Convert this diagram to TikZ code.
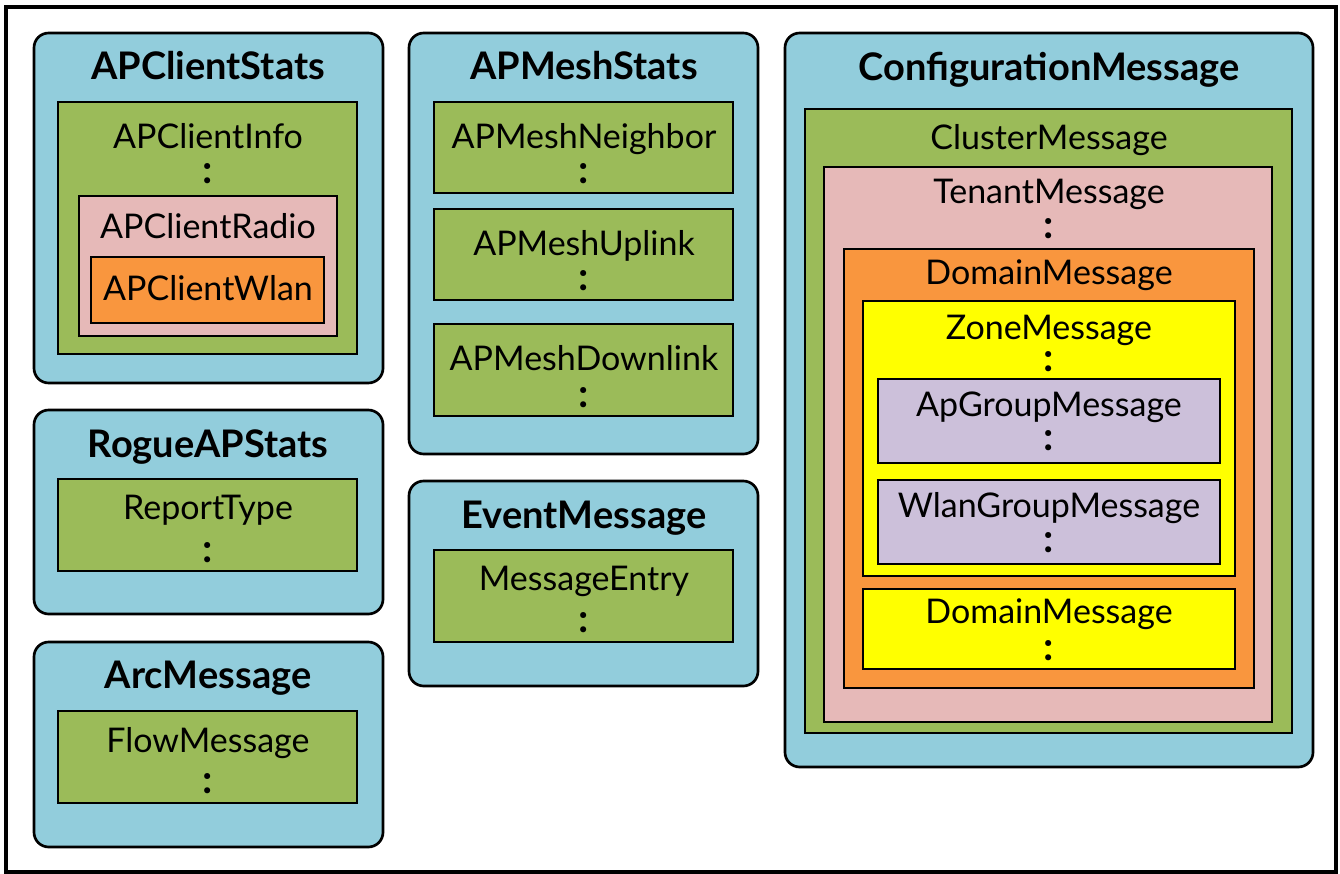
\documentclass[tikz,border=0pt]{standalone}
\usepackage{fontspec}
\setmainfont{Lato}
\usepackage{xcolor}
\usepackage{tikz}
\usetikzlibrary{fit}

\definecolor{msgblue}{RGB}{146,205,220}
\definecolor{msggreen}{RGB}{155,187,89}
\definecolor{msgpink}{RGB}{230,185,184}
\definecolor{msgorange}{RGB}{249,150,62}
\definecolor{msgyellow}{RGB}{255,255,0}
\definecolor{msgpurple}{RGB}{204,192,218}

\begin{document}
\begin{tikzpicture}[x=0.75pt, y=-0.75pt,
    outer/.style={draw, line width=2pt, rounded corners=11pt, fill=msgblue, inner sep=0pt},
    inner/.style={draw, line width=1.2pt, inner sep=0pt},
    title/.style={anchor=base, inner sep=0pt, font=\fontsize{28.5}{34}\selectfont\bfseries},
    lbl/.style={anchor=base, inner sep=0pt, font=\fontsize{25.5}{30}\selectfont},
    more/.style={anchor=base, inner sep=0pt, font=\fontsize{30}{36}\selectfont\bfseries}]

    \useasboundingbox (0,0) rectangle (1340,874);
    \draw[line width=2.4pt] (6,7) rectangle (1336,872);

    % left column
    \node[outer, fit={(34,33) (383,383)}] (clientstats) {};
    \node[title] (tClientStats) at (208,80) {APClientStats};
    \node[inner, fill=msggreen, fit={(58,102) (357,354)}] (clientinfo) {};
    \node[lbl] (tClientInfo) at (208,148) {APClientInfo};
    \node[more] (dClientInfo) at (208,183) {:};
    \node[inner, fill=msgpink, fit={(79,196) (337,336)}] (clientradio) {};
    \node[lbl] (tClientRadio) at (208,238) {APClientRadio};
    \node[inner, fill=msgorange, fit={(91,257) (324,323)}] (clientwlan) {};
    \node[lbl] (tClientWlan) at (208,300) {APClientWlan};

    \node[outer, fit={(34,410) (383,614)}] (rogue) {};
    \node[title] (tRogue) at (208,457) {RogueAPStats};
    \node[inner, fill=msggreen, fit={(58,479) (357,571)}] (report) {};
    \node[lbl] (tReport) at (208,519) {ReportType};
    \node[more] (dReport) at (208,562) {:};

    \node[outer, fit={(34,642) (383,847)}] (arc) {};
    \node[title] (tArc) at (208,688) {ArcMessage};
    \node[inner, fill=msggreen, fit={(58,711) (357,803)}] (flow) {};
    \node[lbl] (tFlow) at (208,752) {FlowMessage};
    \node[more] (dFlow) at (208,793) {:};

    % middle column
    \node[outer, fit={(409,33) (758,454)}] (meshstats) {};
    \node[title] (tMeshStats) at (584,80) {APMeshStats};
    \node[inner, fill=msggreen, fit={(434,102) (733,193)}] (neighbor) {};
    \node[lbl] (tNeighbor) at (584,148) {APMeshNeighbor};
    \node[more] (dNeighbor) at (584,183) {:};
    \node[inner, fill=msggreen, fit={(434,209) (733,300)}] (uplink) {};
    \node[lbl] (tUplink) at (584,255) {APMeshUplink};
    \node[more] (dUplink) at (584,290) {:};
    \node[inner, fill=msggreen, fit={(434,324) (733,416)}] (downlink) {};
    \node[lbl] (tDownlink) at (584,370) {APMeshDownlink};
    \node[more] (dDownlink) at (584,407) {:};

    \node[outer, fit={(409,481) (758,686)}] (event) {};
    \node[title] (tEvent) at (584,528) {EventMessage};
    \node[inner, fill=msggreen, fit={(434,550) (733,642)}] (entry) {};
    \node[lbl] (tEntry) at (584,590) {MessageEntry};
    \node[more] (dEntry) at (584,632) {:};

    % right column
    \node[outer, fit={(785,33) (1313,767)}] (config) {};
    \node[title] (tConfig) at (1049,81) {ConfigurationMessage};
    \node[inner, fill=msggreen, fit={(805,109) (1292,733)}] (cluster) {};
    \node[lbl] (tCluster) at (1049,150) {ClusterMessage};
    \node[inner, fill=msgpink, fit={(824,167) (1272,722)}] (tenant) {};
    \node[lbl] (tTenant) at (1049,203) {TenantMessage};
    \node[more] (dTenant) at (1049,238) {:};
    \node[inner, fill=msgorange, fit={(844,249) (1254,688)}] (domain) {};
    \node[lbl] (tDomain) at (1049,284) {DomainMessage};
    \node[inner, fill=msgyellow, fit={(863,301) (1235,576)}] (zone) {};
    \node[lbl] (tZone) at (1049,339) {ZoneMessage};
    \node[more] (dZone) at (1049,371) {:};
    \node[inner, fill=msgpurple, fit={(878,379) (1220,463)}] (apgroup) {};
    \node[lbl] (tApGroup) at (1049,416) {ApGroupMessage};
    \node[more] (dApGroup) at (1049,450) {:};
    \node[inner, fill=msgpurple, fit={(878,480) (1220,564)}] (wlangroup) {};
    \node[lbl] (tWlanGroup) at (1049,517) {WlanGroupMessage};
    \node[more] (dWlanGroup) at (1049,552) {:};
    \node[inner, fill=msgyellow, fit={(863,589) (1235,669)}] (domaintwo) {};
    \node[lbl] (tDomainTwo) at (1049,623) {DomainMessage};
    \node[more] (dDomainTwo) at (1049,660) {:};
\end{tikzpicture}
\end{document}
